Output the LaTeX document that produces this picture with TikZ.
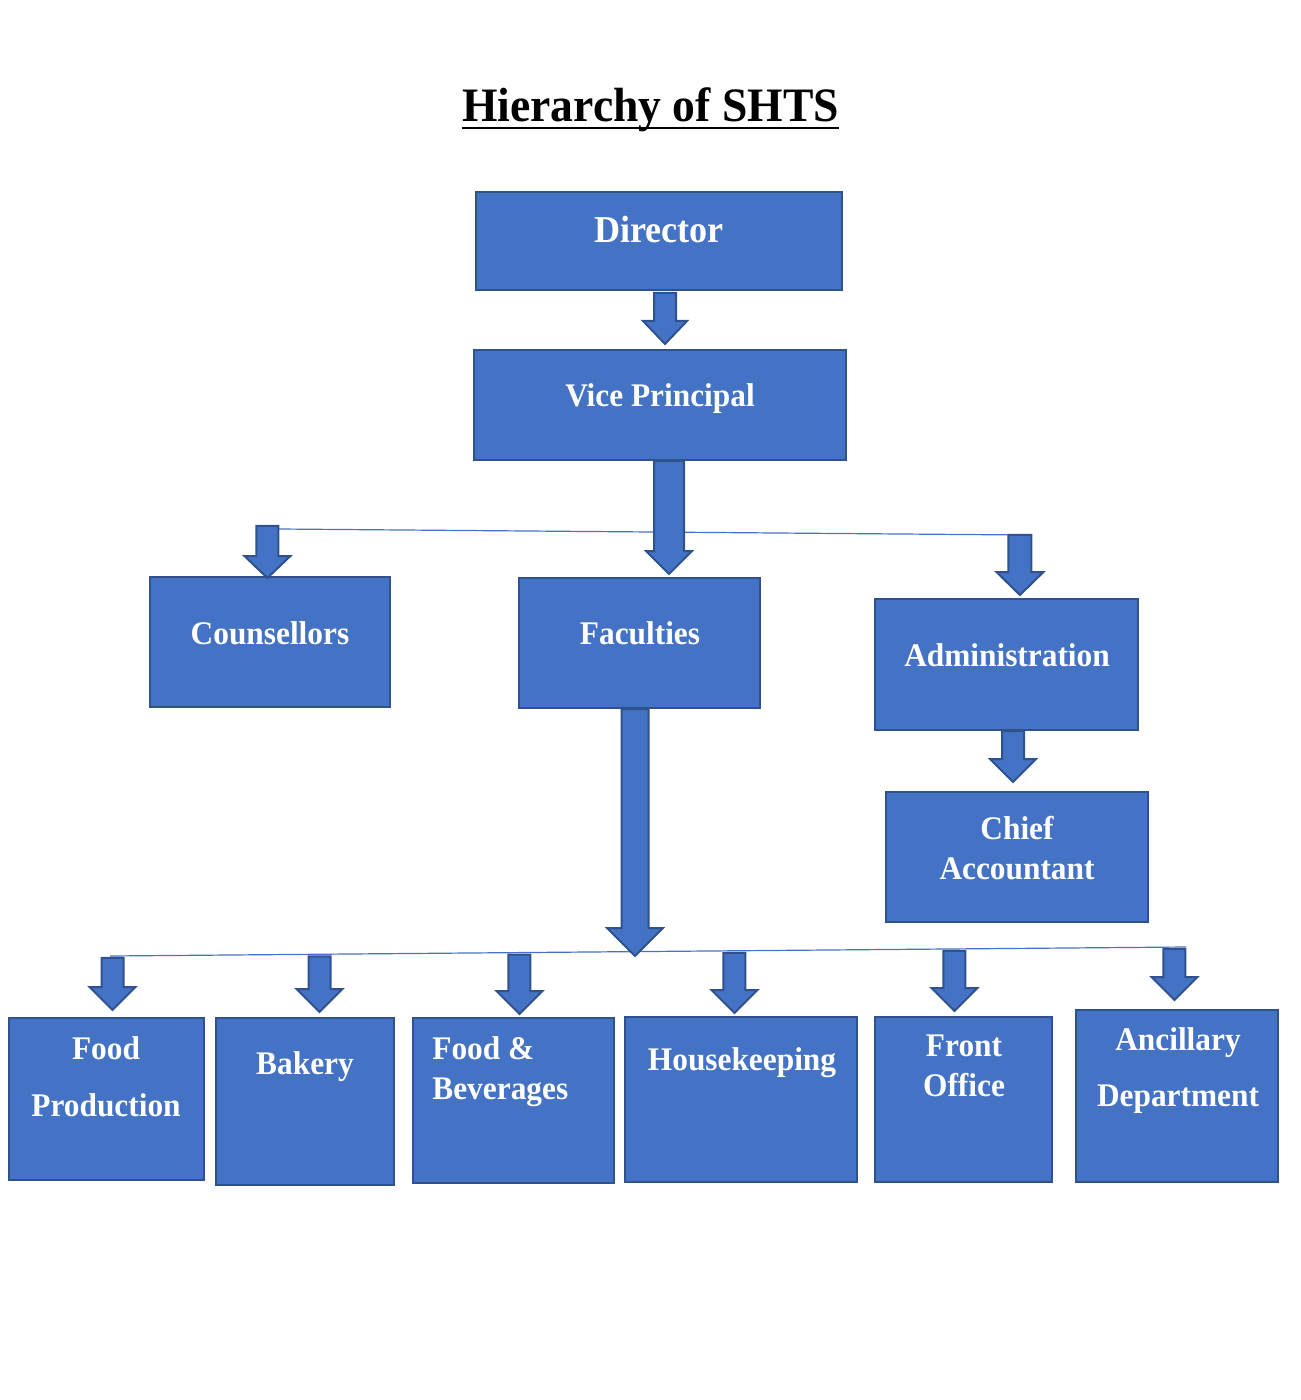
\documentclass[tikz,border=0pt]{standalone}
\usepackage{fontspec}
\setmainfont{Liberation Serif}[FakeStretch=0.95]
\usepackage{tikz}
\usetikzlibrary{calc}
\definecolor{boxfill}{HTML}{4472C4}
\definecolor{boxline}{HTML}{2F528F}

\tikzset{
  orgbox/.style={draw=boxline, fill=boxfill, line width=1pt, inner sep=0pt},
  boxsize/.style 2 args={minimum width=#1*0.5pt, minimum height=#2*0.5pt},
  boxtext/.style={text=white, font=\fontsize{16.5}{20}\selectfont\bfseries, inner sep=0pt, align=center},
  blockarr/.style={draw=boxline, fill=boxfill, line width=1pt, line join=miter},
  branch/.style={draw=boxfill, line width=0.6pt}
}

% block arrow pointing down: top, tip, shaft half width, head half width, head length
\newcommand{\blockarrow}[5]{%
  \draw[blockarr] ($(#1)+(-#3,0)$) -- ($(#1)+(#3,0)$) -- ($(#1 |- #2)+(#3,-#5)$)
    -- ($(#1 |- #2)+(#4,-#5)$) -- (#1 |- #2) -- ($(#1 |- #2)+(-#4,-#5)$)
    -- ($(#1 |- #2)+(-#3,-#5)$) -- cycle;}

\begin{document}
\begin{tikzpicture}[x=0.5pt, y=-0.5pt]
\useasboundingbox (0,0) rectangle (1300,1400);

% title
\node[font=\fontsize{24}{28}\selectfont\bfseries, inner sep=0pt, anchor=base] (title) at (650.5,122) {Hierarchy of SHTS};
\draw[line width=1.4pt] ($(title.base west)+(0,6)$) -- ($(title.base east)+(0,6)$);

% upper levels
\node[orgbox, boxsize={366}{98}] (dir) at (659,241) {};
\node[orgbox, boxsize={372}{110}] (vp) at (660,405) {};
\node[orgbox, boxsize={240}{130}] (couns) at (270,642) {};
\node[orgbox, boxsize={241}{130}] (fac) at (639.5,643) {};
\node[orgbox, boxsize={263}{131}] (admin) at (1006.5,664.5) {};
\node[orgbox, boxsize={262}{130}] (chief) at (1017,857) {};

\node[boxtext, font=\fontsize{19}{22}\selectfont\bfseries, anchor=base] (dir-t) at (659,243) {Director};
\node[boxtext, anchor=base] (vp-t) at (660,407) {Vice Principal};
\node[boxtext, anchor=base] (couns-t) at (270,644) {Counsellors};
\node[boxtext, anchor=base] (fac-t) at (640,644) {Faculties};
\node[boxtext, anchor=base] (admin-t) at (1007,666) {Administration};
\node[boxtext, anchor=north] (chief-t) at (1017,815.5) {Chief\\Accountant};

% departments
\node[orgbox, boxsize={195}{162}] (fp) at (106.5,1099) {};
\node[orgbox, boxsize={178}{167}] (bak) at (305,1101.5) {};
\node[orgbox, boxsize={201}{165}] (fb) at (513.5,1100.5) {};
\node[orgbox, boxsize={232}{165}] (hk) at (741,1099.5) {};
\node[orgbox, boxsize={177}{165}] (fo) at (963.5,1099.5) {};
\node[orgbox, boxsize={202}{172}] (anc) at (1177,1096) {};

\node[boxtext, anchor=north] (fp-t) at (106,1036) {Food\\[8.5pt]Production};
\node[boxtext, anchor=base] (bak-t) at (305,1074) {Bakery};
\node[boxtext, align=left, anchor=north west] (fb-t) at (432,1036) {Food \&\\Beverages};
\node[boxtext, anchor=base] (hk-t) at (742,1070) {Housekeeping};
\node[boxtext, anchor=north] (fo-t) at (964,1034) {Front\\Office};
\node[boxtext, anchor=north] (anc-t) at (1178,1027.5) {Ancillary\\[8pt]Department};

% branch lines
\coordinate (top-l) at (278,529);
\coordinate (top-r) at (1025,535);
\coordinate (bot-l) at (110,956);
\coordinate (bot-r) at (1186,947);
\draw[branch] (top-l) -- (top-r);
\draw[branch] (bot-l) -- (bot-r);

% arrows
\coordinate (dv-s) at ($(dir.south)+(6,2)$);
\coordinate (dv-e) at ($(vp.north)+(6,-5)$);
\blockarrow{dv-s}{dv-e}{11}{22}{23}

\coordinate (vf-s) at ($(vp.south)+(9,0)$);
\coordinate (vf-e) at ($(fac.north)+(29.5,-3)$);
\blockarrow{vf-s}{vf-e}{15}{23}{23}

\coordinate (couns-tip) at ($(couns.north)+(-3,2)$);
\coordinate (couns-top) at ($(top-l)!(couns-tip)!(top-r)+(0,-3)$);
\blockarrow{couns-top}{couns-tip}{11}{23}{22}

\coordinate (admin-tip) at ($(admin.north)+(13,-3)$);
\coordinate (admin-top) at ($(top-l)!(admin-tip)!(top-r)$);
\blockarrow{admin-top}{admin-tip}{11.5}{23.5}{23}

\coordinate (ac-s) at ($(admin.south)+(6.5,0)$);
\coordinate (ac-e) at ($(chief.north)+(-4,-9)$);
\blockarrow{ac-s}{ac-e}{11}{23}{23}

\coordinate (fd-s) at ($(fac.south)+(-4.5,0)$);
\coordinate (fd-e) at ($(fac.south)+(-4.5,247)$);
\blockarrow{fd-s}{fd-e}{13.5}{28}{28}

\foreach \b/\dx/\dy in {fp/6.5/-7, bak/15/-5, fb/6.5/-3, hk/-6/-3, fo/-8.5/-5, anc/-2/-9}{
  \coordinate (\b-tip) at ($(\b.north)+(\dx,\dy)$);
  \coordinate (\b-top) at ($(bot-l)!(\b-tip)!(bot-r)+(0,2)$);
  \blockarrow{\b-top}{\b-tip}{11}{23}{23}
}
\end{tikzpicture}
\end{document}
